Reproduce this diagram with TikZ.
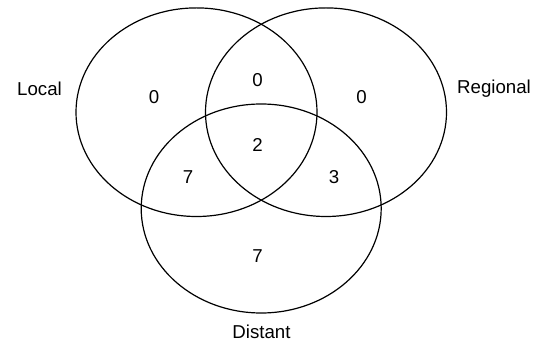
\documentclass[tikz,border=0pt]{standalone}
\usepackage{fontspec}
\setmainfont{Liberation Sans}
\usetikzlibrary{positioning}

\tikzset{
    set/.style={black, line width=0.9pt},
    count/.style={font=\fontsize{14}{16}\selectfont, inner sep=0pt},
    setname/.style={font=\fontsize{14}{16}\selectfont, inner sep=0pt}
}

\newcommand{\Canvas}{
\useasboundingbox (0,0) rectangle (539,345);
\coordinate (local-center) at (196.5,112.2);
\coordinate (regional-center) at (326,112.2);
\coordinate (distant-center) at (261.2,208.5);
}

\begin{document}
\begin{tikzpicture}[x=0.75pt, y=-0.75pt]
\Canvas

% the three sets
\draw[set] (local-center) ellipse [x radius=120.5, y radius=104.3];
\draw[set] (regional-center) ellipse [x radius=120.5, y radius=104.3];
\draw[set] (distant-center) ellipse [x radius=120, y radius=104.5];

% set names
\node[setname] (local) at (39.5,88.5) {Local};
\node[setname] (regional) at (494,88.5) {Regional};
\node[setname] (distant) at (261.5,332) {Distant};

% counts
\node[count] (only-local) at (154,96.7) {0};
\node[count] (local-regional) at (257.5,80) {0};
\node[count] (only-regional) at (361.5,96.7) {0};
\node[count] (all-three) at (257.5,145) {2};
\node[count] (local-distant) at (188,176.7) {7};
\node[count] (regional-distant) at (334,176.7) {3};
\node[count] (only-distant) at (257.5,256) {7};

\end{tikzpicture}
\end{document}
